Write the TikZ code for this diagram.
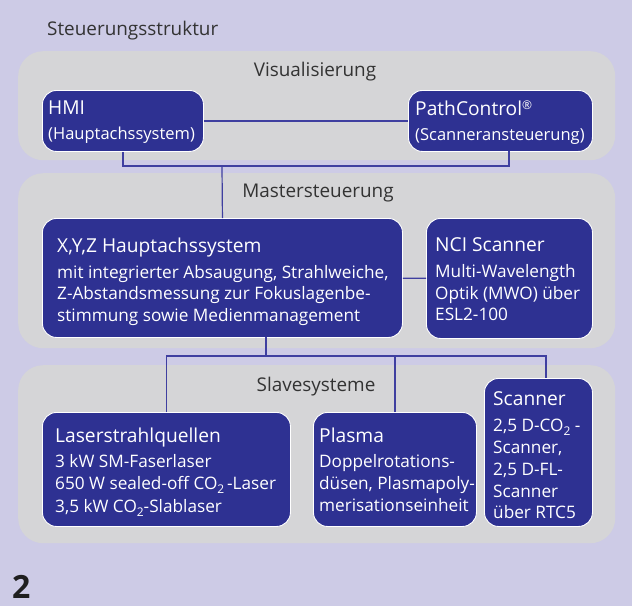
\documentclass[tikz,border=0pt]{standalone}
\usepackage{fontspec}
\setmainfont{Open Sans}
\usetikzlibrary{calc}
\definecolor{bg}{HTML}{CDCBE6}
\definecolor{panel}{HTML}{D5D5D7}
\definecolor{boxblue}{HTML}{2E3192}
\definecolor{linec}{HTML}{3F3FA0}
\definecolor{hdgrey}{HTML}{333333}
\newcommand\subtwo{\raisebox{-4.5pt}{\fontsize{12}{12}\selectfont 2}}
\newcommand\regmark{\raisebox{6pt}{\fontsize{12}{12}\selectfont ®}}
\begin{document}
\begin{tikzpicture}[x=1pt,y=-1pt,
  panelbox/.style={fill=panel, rounded corners=25pt, anchor=north west, inner sep=0pt},
  bluebox/.style={fill=boxblue, draw=white, line width=0.9pt, rounded corners=14pt, anchor=north west, inner sep=0pt},
  hd/.style={text=hdgrey, font=\fontsize{18.9}{22}\selectfont, inner sep=0pt, anchor=base},
  tt/.style={text=white, font=\fontsize{19.2}{22}\selectfont, inner sep=0pt, anchor=base west},
  st/.style={text=white, font=\fontsize{16.5}{22}\selectfont, inner sep=0pt, anchor=base west},
  bd/.style={text=white, font=\fontsize{17.2}{22}\selectfont, inner sep=0pt, anchor=base west},
  conn/.style={draw=linec, line width=1.2pt}]
\fill[bg] (0,0) rectangle (632,606);
\useasboundingbox (0,0) rectangle (632,606);
% panels
\node[panelbox, minimum width=597pt, minimum height=109pt] (p1) at (18,51) {};
\node[panelbox, minimum width=597pt, minimum height=175pt] (p2) at (18,173) {};
\node[panelbox, minimum width=597pt, minimum height=178pt] (p3) at (18,365) {};
% headers
\node[hd, anchor=base west] (title) at (47,35) {Steuerungsstruktur};
\node[hd] (h1) at (315,76) {Visualisierung};
\node[hd] (h2) at (318,197) {Mastersteuerung};
\node[hd] (h3) at (316,391) {Slavesysteme};
% boxes
\node[bluebox, minimum width=161pt, minimum height=61pt] (hmi) at (42,90) {};
\node[bluebox, minimum width=184pt, minimum height=61pt] (pc) at (408,90) {};
\node[bluebox, minimum width=360pt, minimum height=119pt] (xyz) at (42,218) {};
\node[bluebox, minimum width=166pt, minimum height=120pt] (nci) at (426,218) {};
\node[bluebox, minimum width=248pt, minimum height=114pt] (laser) at (42,412) {};
\node[bluebox, minimum width=163pt, minimum height=114pt] (plasma) at (313,412) {};
\node[bluebox, minimum width=108pt, minimum height=148pt] (scan) at (484,378) {};
% texts
\node[tt] (t1) at (48,114) {HMI};
\node[st] (t2) at (48,139) {(Hauptachssystem)};
\node[tt] (t3) at (415,115) {PathControl\regmark};
\node[st] (t4) at (415,140) {(Scanneransteuerung)};
\node[tt] (t5) at (57,252) {X,Y,Z Hauptachssystem};
\node[bd] (t6) at (57,278) {mit integrierter Absaugung, Strahlweiche,};
\node[bd] (t7) at (57,299) {Z-Abstandsmessung zur Fokuslagenbe-};
\node[bd] (t8) at (57,321) {stimmung sowie Medienmanagement};
\node[tt] (t9) at (435,251) {NCI Scanner};
\node[bd] (t10) at (435,277) {Multi-Wavelength};
\node[bd] (t11) at (435,299) {Optik (MWO) über};
\node[bd] (t12) at (435,320) {ESL2-100};
\node[tt] (t13) at (55,442) {Laserstrahlquellen};
\node[bd] (t14) at (55,467) {3 kW SM-Faserlaser};
\node[bd] (t15) at (55,489) {650 W sealed-off CO\subtwo\,-Laser};
\node[bd] (t16) at (55,512) {3,5 kW CO\subtwo-Slablaser};
\node[tt] (t17) at (319,442) {Plasma};
\node[bd] (t18) at (319,467) {Doppelrotations-};
\node[bd] (t19) at (319,489) {düsen, Plasmapoly-};
\node[bd] (t20) at (319,511) {merisationseinheit};
\node[tt] (t21) at (493,405) {Scanner};
\node[bd] (t22) at (493,431) {2,5 D-CO\subtwo\ -};
\node[bd] (t23) at (493,453) {Scanner,};
\node[bd] (t24) at (493,475) {2,5 D-FL-};
\node[bd] (t25) at (493,497) {Scanner};
\node[bd] (t26) at (493,518) {über RTC5};
\node[font=\fontsize{32}{32}\selectfont\bfseries, text=black!88, anchor=base west, inner sep=0pt] (num) at (12,598) {2};
% connectors
\coordinate (pcb) at (509,151);
\coordinate (busA) at (222,166);
\coordinate (xyzb) at (266,337);
\coordinate (busB) at (266,356);
\coordinate (scant) at (546,378);
\draw[conn] (hmi) -- (pc);
\draw[conn] (hmi.south) |- (busA) -| (pcb);
\draw[conn] (busA) -- (xyz.north);
\draw[conn] (xyz) -- (nci);
\draw[conn] (xyzb) -- (busB);
\draw[conn] (laser.north) |- (busB) -| (scant);
\draw[conn] (plasma.north) -- (plasma.north |- busB);
\end{tikzpicture}
\end{document}
